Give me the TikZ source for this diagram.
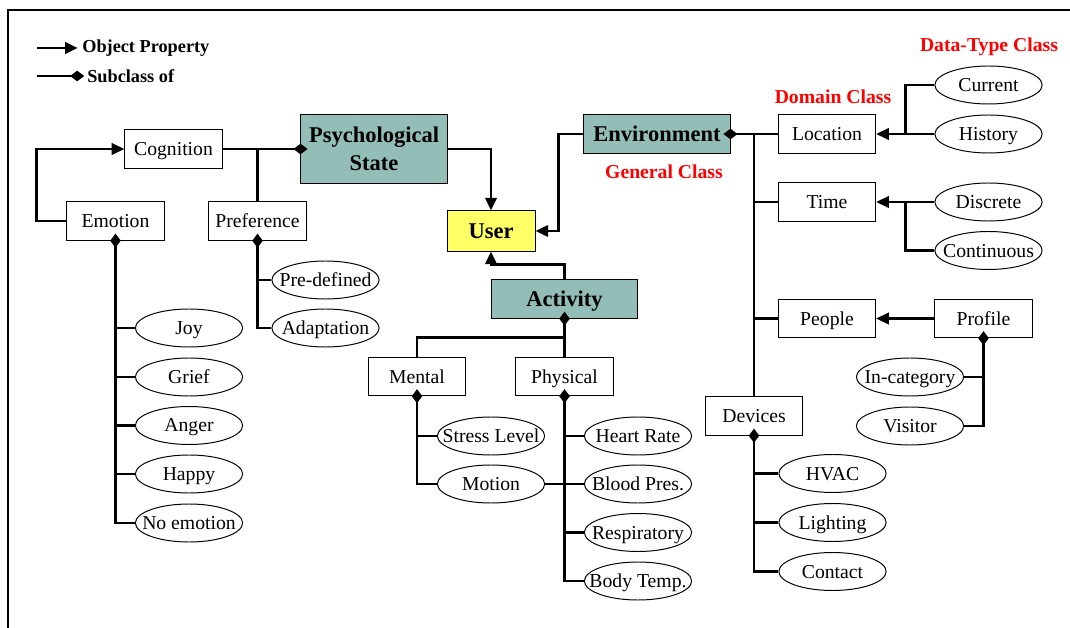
\documentclass[tikz,border=0pt]{standalone}
\usepackage{fontspec}
\setmainfont{Liberation Serif}
\usetikzlibrary{shapes.geometric,arrows.meta,calc}
\definecolor{clsteal}{RGB}{146,190,183}
\definecolor{usery}{RGB}{255,255,102}
\tikzstyle{cls}=[draw,rectangle,line width=0.7pt,minimum width=2.43cm,minimum height=0.96cm,inner sep=0pt,text depth=0pt,font=\fontsize{14}{16}\selectfont]
\tikzstyle{gencls}=[cls,fill=clsteal,minimum width=3.65cm,font=\fontsize{16}{20}\selectfont\bfseries]
\tikzstyle{usercls}=[cls,fill=usery,minimum width=2.2cm,minimum height=1cm,font=\fontsize{16}{20}\selectfont\bfseries]
\tikzstyle{dtype}=[draw,ellipse,line width=0.7pt,minimum width=2.68cm,minimum height=0.95cm,inner sep=0pt,text depth=0pt,font=\fontsize{14}{16}\selectfont,execute at begin node={\hbox to 0pt\bgroup\hss},execute at end node={\hss\egroup}]
\tikzstyle{link}=[line width=2pt]
\tikzstyle{obj}=[link,-{Triangle[length=9pt,width=8pt]}]
\tikzstyle{sub}=[link,-{Diamond[length=10pt,width=7.5pt]},shorten >=-5pt]
\tikzstyle{tag}=[text=red,inner sep=0pt,font=\fontsize{14}{16}\selectfont\bfseries]
\tikzstyle{legend}=[inner sep=0pt,anchor=west,font=\fontsize{13}{15}\selectfont\bfseries]

\begin{document}
\begin{tikzpicture}[x=0.025cm,y=-0.025cm]
    \useasboundingbox (0,0) rectangle (1070,628);
    \draw[line width=0.8pt] (8,628) -- (8,10) -- (1070,10);

    % legend
    \coordinate (lg1) at (37,48);
    \coordinate (lg2) at (37,76);
    \node[legend] (optext) at (82,48) {Object Property};
    \node[legend] (subtext) at (87,76) {Subclass of};
    \draw[obj] (lg1) -- ([xshift=-3pt]optext.west);
    \draw[link,-{Diamond[length=10pt,width=7.5pt]}] (lg2) -- ([xshift=-2pt]subtext.west);

    % general classes
    \node[gencls,align=center,minimum height=1.7cm] (psych) at (374,149) {Psychological\\State};
    \node[gencls,minimum height=0.98cm] (env) at (657,134) {Environment};
    \node[gencls,minimum width=3.63cm] (activity) at (564.5,299) {Activity};
    \node[usercls] (user) at (491,231) {User};

    % domain classes
    \node[cls] (cognition) at (173.5,149) {Cognition};
    \node[cls] (emotion) at (115.5,221) {Emotion};
    \node[cls] (preference) at (257.5,221) {Preference};
    \node[cls] (mental) at (417,376.5) {Mental};
    \node[cls] (physical) at (564.5,376.5) {Physical};
    \node[cls] (location) at (827,134) {Location};
    \node[cls] (time) at (827,202) {Time};
    \node[cls] (people) at (827,318.5) {People};
    \node[cls] (profile) at (983.5,318.5) {Profile};
    \node[cls] (devices) at (754,416) {Devices};

    % data-type classes
    \node[dtype] (joy) at (189,328) {Joy};
    \node[dtype] (grief) at (189,377) {Grief};
    \node[dtype] (anger) at (189,425.5) {Anger};
    \node[dtype] (happy) at (189,474) {Happy};
    \node[dtype] (noemo) at (189,523) {No emotion};
    \node[dtype] (predef) at (325.5,280) {Pre-defined};
    \node[dtype] (adapt) at (325.5,328) {Adaptation};
    \node[dtype] (stress) at (491,436) {Stress Level};
    \node[dtype] (motion) at (491,484) {Motion};
    \node[dtype] (heart) at (638,436) {Heart Rate};
    \node[dtype] (blood) at (638,484) {Blood Pres.};
    \node[dtype] (resp) at (638,532.5) {Respiratory};
    \node[dtype] (btemp) at (638,581) {Body Temp.};
    \node[dtype] (current) at (988.5,85) {Current};
    \node[dtype] (history) at (988.5,134) {History};
    \node[dtype] (discrete) at (988.5,202) {Discrete};
    \node[dtype] (continuous) at (988.5,250.5) {Continuous};
    \node[dtype] (incat) at (910,377) {In-category};
    \node[dtype] (visitor) at (910,426) {Visitor};
    \node[dtype] (hvac) at (832.5,473.5) {HVAC};
    \node[dtype] (lighting) at (832.5,522.5) {Lighting};
    \node[dtype] (contact) at (832.5,571.5) {Contact};

    % red tags
    \node[tag] (tagdt) at (989,47) {Data-Type Class};
    \node[tag] (tagdom) at (833,97) {Domain Class};
    \node[tag] (taggen) at (664,172) {General Class};

    % object properties
    \draw[obj] (emotion.west) -- ++(-30,0) |- (cognition.west);
    \draw[obj] (psych.east) -| (user.north);
    \draw[obj] (env.west) -- ++(-25,0) |- (user.east);
    \draw[obj] (activity.north) -- ++(0,-15) -| (user.south);
    \draw[obj] (history.west) -- (location.east);
    \draw[link] (current.west) -- ++(-29,0) |- (history.west);
    \draw[obj] (discrete.west) -- (time.east);
    \draw[link] (continuous.west) -- ++(-29,0) |- (discrete.west);
    \draw[obj] (profile.west) -- (people.east);

    % subclasses
    \draw[sub] (cognition.east) -- (psych.west);
    \draw[link] (preference.north) -- (preference.north |- cognition.east);
    \draw[sub] (noemo.west) -| (emotion.south);
    \foreach \e in {joy,grief,anger,happy}
    \draw[link] (\e.west) -- (\e.west -| emotion.south);
    \draw[sub] (adapt.west) -| (preference.south);
    \draw[link] (predef.west) -- (predef.west -| preference.south);
    \draw[sub] (physical.north) -- (activity.south);
    \draw[link] (mental.north) |- ($(activity.south)!.5!(physical.north)$);
    \draw[sub] (motion.west) -| (mental.south);
    \draw[link] (stress.west) -- (stress.west -| mental.south);
    \draw[sub] (btemp.west) -| (physical.south);
    \foreach \e in {heart,blood,resp}
    \draw[link] (\e.west) -- (\e.west -| physical.south);
    \draw[link] (motion.east) -- (blood.west);
    \draw[sub] (location.west) -- (env.east);
    \draw[link] (devices.north) -- (devices.north |- env.east);
    \foreach \e in {time,people}
    \draw[link] (\e.west) -- (\e.west -| devices.north);
    \draw[sub] (visitor.east) -| (profile.south);
    \draw[link] (incat.east) -- (incat.east -| profile.south);
    \draw[sub] (contact.west) -| (devices.south);
    \foreach \e in {hvac,lighting}
    \draw[link] (\e.west) -- (\e.west -| devices.south);
\end{tikzpicture}
\end{document}
